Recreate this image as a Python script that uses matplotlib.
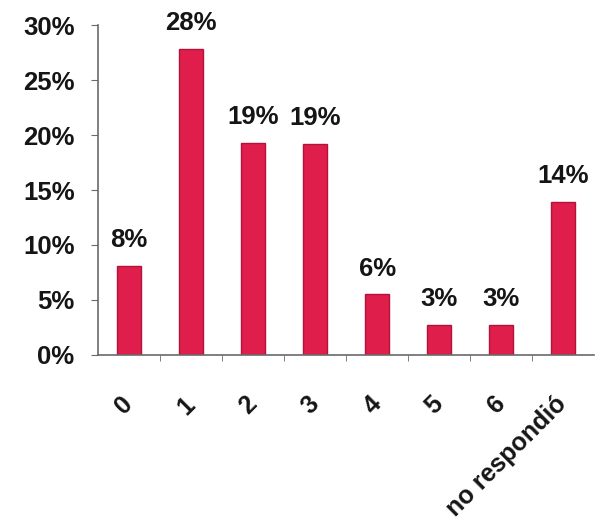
#!/usr/bin/env python3

"""Bar chart: percentage of answers by category."""

import matplotlib
matplotlib.use('Agg')
from matplotlib import pyplot as plt

categories = ['0', '1', '2', '3', '4', '5', '6', 'no respondió']
values = [8.1, 27.8, 19.3, 19.2, 5.5, 2.7, 2.7, 13.9]
value_labels = ['8%', '28%', '19%', '19%', '6%', '3%', '3%', '14%']
y_ticks = [0, 5, 10, 15, 20, 25, 30]

BAR_COLOR = '#e01e4c'
EDGE_COLOR = '#b3123a'
TEXT_COLOR = '#151515'
AXIS_COLOR = '#6a6a6a'

plt.rcParams['font.family'] = ['Liberation Sans', 'DejaVu Sans']
plt.rcParams['font.weight'] = 'bold'

figure = plt.figure(figsize=(6.02, 5.25), dpi=100)
axle = figure.add_axes([0.163, 0.324, 0.824, 0.628])

x_pos = list(range(len(categories)))
bars = axle.bar(
    x_pos, values, 0.39, color=BAR_COLOR,
    edgecolor=EDGE_COLOR, linewidth=1.0,
)
for rect, label in zip(bars, value_labels):
    axle.annotate(
        label,
        (rect.get_x() + rect.get_width() / 2, rect.get_height()),
        xytext=(0, 10), textcoords='offset points',
        ha='center', va='bottom', fontsize=18.5, fontweight='bold',
        color=TEXT_COLOR,
    )

axle.set_xlim(-0.5, len(categories) - 0.5)
axle.set_ylim(0, 30)
axle.set_yticks(y_ticks)
axle.set_yticklabels([f'{t}%' for t in y_ticks])

# category labels, rotated
axle.set_xticks(x_pos)
axle.set_xticklabels(
    categories, rotation=45, ha='right', va='center',
    rotation_mode='anchor', fontsize=18, fontweight='bold',
    color=TEXT_COLOR,
)
axle.tick_params(axis='x', length=0, pad=33)
# small ticks between categories
axle.set_xticks([x + 0.5 for x in x_pos[:-1]], minor=True)
axle.tick_params(axis='x', which='minor', length=4, color=AXIS_COLOR,
                 direction='out')
axle.tick_params(axis='y', length=5, color=AXIS_COLOR, pad=12,
                 labelsize=18.5, labelcolor=TEXT_COLOR)

for side in ('top', 'right'):
    axle.spines[side].set_visible(False)
for side in ('left', 'bottom'):
    axle.spines[side].set_color(AXIS_COLOR)
    axle.spines[side].set_linewidth(1.2)

figure.savefig('out.png', dpi=100)
